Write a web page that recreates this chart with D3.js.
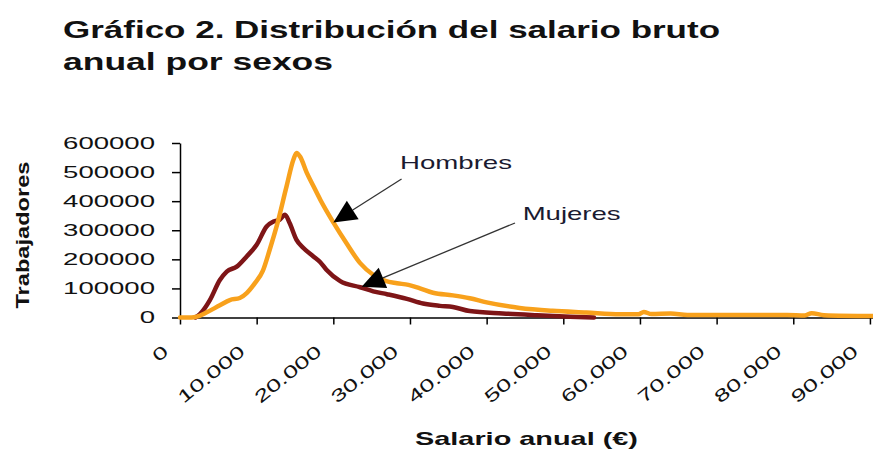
<!DOCTYPE html>
<html>
<head>
<meta charset="utf-8">
<script src="https://cdn.jsdelivr.net/npm/d3@7"></script>
<style>
  html, body { margin: 0; padding: 0; background: #fff; }
  svg { display: block; }
  text { font-family: "Liberation Sans", Arial, sans-serif; }
</style>
</head>
<body>
<svg id="chart" width="873" height="450"></svg>
<script>
// ---- Data ----
const titleLines = ["Gráfico 2. Distribución del salario bruto", "anual por sexos"];
const yAxisTitle = "Trabajadores";
const xAxisTitle = "Salario anual (€)";

const xTickValues = [0, 10000, 20000, 30000, 40000, 50000, 60000, 70000, 80000, 90000];
const xTickLabels = ["0", "10.000", "20.000", "30.000", "40.000", "50.000", "60.000", "70.000", "80.000", "90.000"];
const yTickValues = [0, 100000, 200000, 300000, 400000, 500000, 600000];
const yTickLabels = ["0", "100000", "200000", "300000", "400000", "500000", "600000"];

const hombresSalario = [0, 1500, 2200, 3500, 5200, 6500, 7800, 8700, 9800, 10800, 11700, 12600, 13900, 14800, 15200, 15700, 16500, 17400, 18300, 20000, 21700, 23500, 25200, 26800, 28300, 29800, 31300, 33000, 35600, 37800, 40000, 44300, 48600, 53000, 57400, 59800, 60500, 61500, 64000, 66200, 79200, 81500, 82400, 84000, 90400];
const hombresTrabajadores = [0, 0, 3000, 18000, 42000, 60000, 67000, 84000, 119000, 160000, 233000, 313000, 451000, 543000, 566000, 552000, 500000, 452000, 405000, 327000, 256000, 187000, 147000, 126000, 118000, 112000, 100000, 85000, 76000, 66000, 52000, 33000, 23000, 17000, 11000, 11000, 19000, 12000, 14000, 9000, 9000, 7000, 15000, 8000, 5000];

const mujeresSalario = [2000, 2600, 3900, 5200, 6100, 7400, 8700, 10000, 11300, 12200, 13000, 13700, 14300, 15200, 16100, 17400, 18300, 19100, 20900, 23500, 25200, 27000, 29600, 31700, 33900, 35600, 37800, 42100, 46600, 50900, 54000];
const mujeresTrabajadores = [0, 12000, 60000, 129000, 158000, 175000, 210000, 250000, 313000, 330000, 336000, 353000, 325000, 267000, 239000, 210000, 190000, 164000, 125000, 104000, 90000, 80000, 64000, 48000, 40000, 36000, 22000, 14000, 8000, 3000, 0];

// annotations (in data units)
const annotLabels = ["Hombres", "Mujeres"];
const annotTip = [[20000, 327000], [23700, 106000]];
const annotTail = [[28900, 476000], [43700, 325000]];
const annotTextPos = [[28700, 512000], [44700, 336000]];

// ---- Layout ----
const svg = d3.select("#chart");
const x = d3.scaleLinear().domain([0, 90400]).range([180, 873]);
const y = d3.scaleLinear().domain([0, 600000]).range([317.5, 143]);

function stretch(sel, target) {
  sel.each(function () {
    const n = this.getComputedTextLength();
    const t = typeof target === "function" ? target(n) : target;
    d3.select(this).attr("textLength", t).attr("lengthAdjust", "spacingAndGlyphs");
  });
}

// Title
const t1 = svg.append("text").attr("x", 63).attr("y", 37.5)
  .attr("font-size", 23).attr("font-weight", "bold").attr("fill", "#111").text(titleLines[0]);
stretch(t1, 657);
const t2 = svg.append("text").attr("x", 63).attr("y", 70)
  .attr("font-size", 23).attr("font-weight", "bold").attr("fill", "#111").text(titleLines[1]);
stretch(t2, 270);

// Y axis
const yAxis = svg.append("g").attr("transform", "translate(180,0)")
  .call(d3.axisLeft(y).tickValues(yTickValues).tickSize(8).tickSizeOuter(0).tickPadding(17)
    .tickFormat((d, i) => yTickLabels[i]));
yAxis.select(".domain").attr("stroke", "#000").attr("stroke-width", 1.5);
yAxis.selectAll(".tick line").attr("stroke", "#000").attr("stroke-width", 1.5);
const yt = yAxis.selectAll(".tick text").attr("font-size", 17).attr("fill", "#111")
  .attr("font-family", "Liberation Sans, Arial, sans-serif");
stretch(yt, n => n * 1.62);

// X axis
const xAxis = svg.append("g").attr("transform", "translate(0,317.5)")
  .call(d3.axisBottom(x).tickValues(xTickValues).tickSize(7).tickSizeOuter(0)
    .tickFormat((d, i) => xTickLabels[i]));
xAxis.select(".domain").attr("stroke", "#000").attr("stroke-width", 1.5);
xAxis.selectAll(".tick line").attr("stroke", "#000").attr("stroke-width", 1.5);
const xt = xAxis.selectAll(".tick text")
  .attr("font-size", 17.5).attr("fill", "#111")
  .attr("font-family", "Liberation Sans, Arial, sans-serif")
  .attr("y", 0).attr("dy", 0)
  .attr("text-anchor", "end")
  .attr("transform", "translate(-11,36) rotate(-39)");
stretch(xt, n => n * 1.5);

// Axis titles
const yl = svg.append("text")
  .attr("transform", "translate(29,235) rotate(-90)")
  .attr("text-anchor", "middle").attr("font-size", 18).attr("font-weight", "bold")
  .attr("fill", "#111").text(yAxisTitle);
stretch(yl, 147);
const xl = svg.append("text").attr("x", 526.5).attr("y", 445)
  .attr("text-anchor", "middle").attr("font-size", 19).attr("font-weight", "bold")
  .attr("fill", "#111").text(xAxisTitle);
stretch(xl, 223);

// Lines
const line = d3.line().x(d => x(d[0])).y(d => y(d[1])).curve(d3.curveMonotoneX);
const mujeres = mujeresSalario.map((s, i) => [s, mujeresTrabajadores[i]]);
const hombres = hombresSalario.map((s, i) => [s, hombresTrabajadores[i]]);

svg.append("path").datum(mujeres).attr("d", line)
  .attr("fill", "none").attr("stroke", "#7E1517").attr("stroke-width", 4.5)
  .attr("stroke-linejoin", "round").attr("stroke-linecap", "round");
svg.append("path").datum(hombres).attr("d", line)
  .attr("fill", "none").attr("stroke", "#F8A11C").attr("stroke-width", 4.5)
  .attr("stroke-linejoin", "round").attr("stroke-linecap", "round");

// Annotations
const headLen = 23, headHalf = 11;
annotLabels.forEach((lab, i) => {
  const tip = [x(annotTip[i][0]), y(annotTip[i][1])];
  const tail = [x(annotTail[i][0]), y(annotTail[i][1])];
  const dx = tail[0] - tip[0], dy = tail[1] - tip[1];
  const len = Math.hypot(dx, dy);
  const ux = dx / len, uy = dy / len;
  const bx = tip[0] + ux * headLen, by = tip[1] + uy * headLen;
  svg.append("line").attr("x1", tail[0]).attr("y1", tail[1]).attr("x2", bx).attr("y2", by)
    .attr("stroke", "#333").attr("stroke-width", 1.3);
  svg.append("path")
    .attr("d", `M${tip[0]},${tip[1]}L${bx - uy * headHalf},${by + ux * headHalf}L${bx + uy * headHalf},${by - ux * headHalf}Z`)
    .attr("fill", "#000");
  const tx = svg.append("text").attr("x", x(annotTextPos[i][0])).attr("y", y(annotTextPos[i][1]))
    .attr("font-size", 19).attr("fill", "#1a1a30").text(lab);
  stretch(tx, i === 0 ? 112 : 98);
});
</script>
</body>
</html>
